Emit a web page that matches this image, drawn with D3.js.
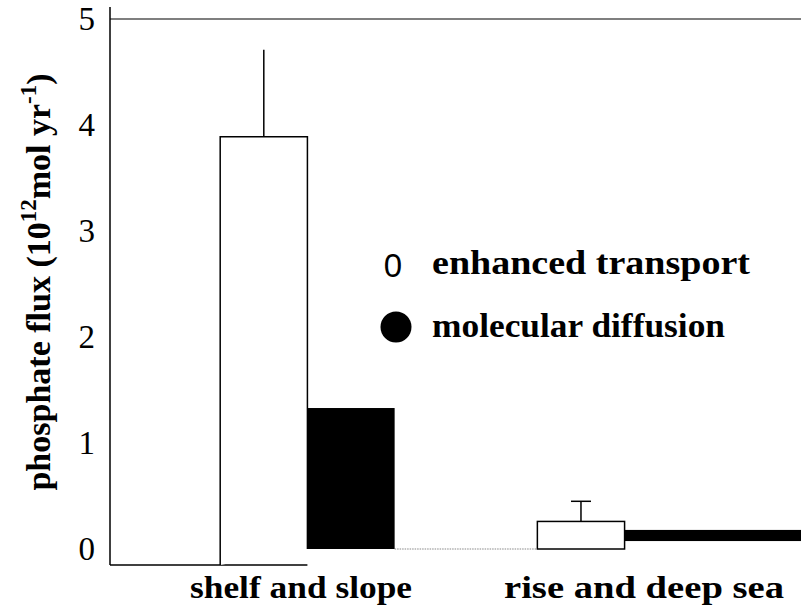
<!DOCTYPE html>
<html>
<head>
<meta charset="utf-8">
<script src="https://cdn.jsdelivr.net/npm/d3@7"></script>
<style>
  html, body { margin: 0; padding: 0; background: #fff; }
  svg { display: block; }
  .serif { font-family: "Liberation Serif", "Times New Roman", Times, "DejaVu Serif", serif; }
  .sans { font-family: "Liberation Sans", Arial, sans-serif; }
</style>
</head>
<body>
<div id="chart"></div>
<script>
// ---- data ----
const categories = ["shelf and slope", "rise and deep sea"];
const seriesNames = ["enhanced transport", "molecular diffusion"];
const enhancedValues = [3.89, 0.26];
const enhancedErrorTop = [4.71, 0.45];
const diffusionValues = [1.33, 0.18];
const diffusionLow = [0, 0.075];
const yTicks = [0, 1, 2, 3, 4, 5];

// ---- layout ----
const W = 801, H = 605;
const mLeft = 110, mRight = 801, mTop = 19, mBottom = 549;

const svg = d3.select("#chart").append("svg")
  .attr("width", W).attr("height", H);

const y = d3.scaleLinear().domain([0, 5]).range([mBottom, mTop]);
const x = d3.scaleBand().domain(categories).range([152, 152 + 2 * 314]).paddingInner(0.45).paddingOuter(0.215);
const sub = d3.scaleBand().domain(seriesNames).range([0, x.bandwidth()]);
const xLabel = d3.scalePoint().domain(categories).range([301, 644]);
const xLabelWidth = [222, 280];
const legendWidth = [318, 293];

// top frame line
svg.append("line")
  .attr("x1", mLeft).attr("x2", mRight)
  .attr("y1", y(5)).attr("y2", y(5))
  .attr("stroke", "#555").attr("stroke-width", 1.5);

// y axis
const yAxis = d3.axisLeft(y).tickValues(yTicks).tickSize(0).tickPadding(15).tickFormat(d3.format("d"));
const ga = svg.append("g").attr("transform", `translate(${mLeft},0)`).call(yAxis)
  .attr("font-family", null).attr("font-size", null);
ga.select(".domain").remove();
ga.selectAll("text")
  .attr("class", "serif")
  .style("font-size", "33px").attr("fill", "#000")
  .attr("dy", "0.33em");
svg.append("line")
  .attr("x1", mLeft).attr("x2", mLeft)
  .attr("y1", 7).attr("y2", 565)
  .attr("stroke", "#000").attr("stroke-width", 1.5);

// short x-axis line under first group
const firstCenter = x(categories[0]) + sub(seriesNames[1]);
svg.append("line")
  .attr("x1", mLeft).attr("x2", firstCenter)
  .attr("y1", 565).attr("y2", 565)
  .attr("stroke", "#000").attr("stroke-width", 1.5);

// dotted baseline between groups
svg.append("line")
  .attr("x1", x(categories[0]) + x.bandwidth())
  .attr("x2", x(categories[1]) + sub(seriesNames[0]))
  .attr("y1", y(0)).attr("y2", y(0))
  .attr("stroke", "#888").attr("stroke-width", 1.2)
  .attr("stroke-dasharray", "1.5,1");

// enhanced transport bars (white)
categories.forEach((c, i) => {
  const bx = x(c) + sub(seriesNames[0]);
  const bw = sub.bandwidth();
  const g = svg.append("g");
  const cx = bx + bw / 2;
  g.append("line")
    .attr("x1", cx).attr("x2", cx)
    .attr("y1", y(enhancedErrorTop[i])).attr("y2", y(enhancedValues[i]))
    .attr("stroke", "#000").attr("stroke-width", 1.5);
  if (i === 1) {
    g.append("line")
      .attr("x1", cx - 10).attr("x2", cx + 10)
      .attr("y1", y(enhancedErrorTop[i])).attr("y2", y(enhancedErrorTop[i]))
      .attr("stroke", "#000").attr("stroke-width", 1.5);
  }
  if (i === 0) {
    g.append("path")
      .attr("d", `M${bx},565 V${y(enhancedValues[i])} H${bx + bw} V${y(0)}`)
      .attr("fill", "#fff").attr("stroke", "#000").attr("stroke-width", 1.5);
  } else {
    g.append("rect")
      .attr("x", bx).attr("y", y(enhancedValues[i]))
      .attr("width", bw).attr("height", y(0) - y(enhancedValues[i]))
      .attr("fill", "#fff").attr("stroke", "#000").attr("stroke-width", 1.5);
  }
});

// molecular diffusion bars (black)
categories.forEach((c, i) => {
  const bx = x(c) + sub(seriesNames[1]);
  const bw = (i === categories.length - 1) ? mRight - bx : sub.bandwidth();
  svg.append("rect")
    .attr("x", bx).attr("y", y(diffusionValues[i]))
    .attr("width", bw).attr("height", y(diffusionLow[i]) - y(diffusionValues[i]))
    .attr("fill", "#000");
});

// x labels
svg.append("g").selectAll("text").data(categories).join("text")
  .attr("class", "serif")
  .attr("x", d => xLabel(d)).attr("y", 598)
  .attr("text-anchor", "middle")
  .attr("textLength", (d, i) => xLabelWidth[i])
  .attr("lengthAdjust", "spacingAndGlyphs")
  .style("font-weight", "bold").style("font-size", "31px")
  .text(d => d);

// y title
const yt = svg.append("text")
  .attr("class", "serif")
  .attr("transform", `translate(50,282) rotate(-90)`)
  .attr("text-anchor", "middle")
  .style("font-weight", "bold").style("font-size", "34px");
yt.append("tspan").text("phosphate flux (10");
yt.append("tspan").attr("dy", -14).style("font-size", "23px").text("12");
yt.append("tspan").attr("dy", 14).text("mol yr");
yt.append("tspan").attr("dy", -14).style("font-size", "23px").text("-1");
yt.append("tspan").attr("dy", 14).text(")");

// legend
const legend = svg.append("g");
legend.append("text")
  .attr("class", "sans")
  .attr("x", 393).attr("y", 277)
  .attr("text-anchor", "middle")
  .style("font-size", "33px")
  .text("0");
legend.append("circle").attr("cx", 396).attr("cy", 327).attr("r", 15.5).attr("fill", "#000");
legend.selectAll("text.lab").data(seriesNames).join("text")
  .attr("class", "lab serif")
  .attr("x", 432).attr("y", (d, i) => 274 + i * 63)
  .attr("textLength", (d, i) => legendWidth[i])
  .attr("lengthAdjust", "spacingAndGlyphs")
  .style("font-weight", "bold").style("font-size", "33px")
  .text(d => d);
</script>
</body>
</html>
